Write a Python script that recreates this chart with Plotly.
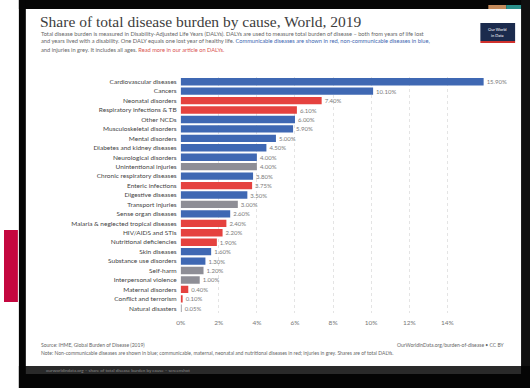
import plotly.graph_objects as go

W, H = 530, 388

causes = [
    "Cardiovascular diseases", "Cancers", "Neonatal disorders",
    "Respiratory infections & TB", "Other NCDs", "Musculoskeletal disorders",
    "Mental disorders", "Diabetes and kidney diseases", "Neurological disorders",
    "Unintentional injuries", "Chronic respiratory diseases", "Enteric infections",
    "Digestive diseases", "Transport injuries", "Sense organ diseases",
    "Malaria & neglected tropical diseases", "HIV/AIDS and STIs",
    "Nutritional deficiencies", "Skin diseases", "Substance use disorders",
    "Self-harm", "Interpersonal violence", "Maternal disorders",
    "Conflict and terrorism", "Natural disasters",
]
share = [15.9, 10.1, 7.4, 6.1, 6.0, 5.9, 5.0, 4.5, 4.0, 4.0, 3.8, 3.75, 3.5,
         3.0, 2.6, 2.4, 2.2, 1.9, 1.6, 1.3, 1.2, 1.0, 0.4, 0.1, 0.05]
group = ["N", "N", "C", "C", "N", "N", "N", "N", "N", "I", "N", "C", "N",
         "I", "N", "C", "C", "C", "N", "N", "I", "I", "C", "C", "I"]
xticks = [0, 2, 4, 6, 8, 10, 12, 14]

palette = {"N": "#3f68b3", "C": "#e5423f", "I": "#8e8e96"}
colors = [palette[g] for g in group]


def px(x):
    return x / W


def py(y):
    return 1 - y / H


fig = go.Figure(go.Bar(
    x=share, y=causes, orientation="h",
    marker=dict(color=colors, line=dict(width=0)),
    text=[f"{v:.2f}%" for v in share], textposition="outside",
    textfont=dict(size=6, color="#7a7a7a", family="Lato"),
    cliponaxis=False,
))

fig.update_layout(
    width=W, height=H, margin=dict(l=0, r=0, t=0, b=0),
    paper_bgcolor="white", plot_bgcolor="white",
    showlegend=False, bargap=0.22,
    font=dict(family="Lato", color="#555"),
    xaxis=dict(domain=[px(178), px(178 + 17 * 19.2)], range=[0, 17],
               tickvals=xticks, ticktext=[f"{t}%" for t in xticks],
               showgrid=True, gridcolor="#e4e4e4", griddash="dot",
               zeroline=False, showline=False, ticks="",
               tickfont=dict(size=6.5, color="#777"), ticklabelstandoff=4),
    yaxis=dict(domain=[py(313), py(77)], autorange="reversed",
               showgrid=False, zeroline=False, showline=False, ticks="",
               tickfont=dict(size=6.5, color="#444"), ticklabelstandoff=3),
)

shapes = []
def rect(x0, y0, x1, y1, color, layer="above"):
    shapes.append(dict(type="rect", xref="paper", yref="paper",
                       x0=px(x0), x1=px(x1), y0=py(y1), y1=py(y0),
                       fillcolor=color, line=dict(width=0), layer=layer))

# outer frame (screenshot borders)
rect(15, 0, 530, 9, "#050505")
rect(15, 0, 22, 388, "#050505")
rect(521, 0, 530, 388, "#101010")
rect(15, 366, 530, 388, "#050505")
rect(22, 366, 521, 374, "#2a2a2a")
rect(0, 230, 14, 302, "#c4073f")
# logo
rect(480, 23, 515, 41, "#1b2b4d")
rect(480, 41, 515, 43, "#d0312d")
rect(488, 5, 506, 9, "#c48a5a")
rect(506, 5, 521, 9, "#2a8f8a")
fig.update_layout(shapes=shapes)

ann = []
def text(x, y, s, size, color="#666", family="Lato", xanchor="left"):
    ann.append(dict(x=px(x), y=py(y), xref="paper", yref="paper", text=s,
                    showarrow=False, xanchor=xanchor, yanchor="middle",
                    font=dict(size=size, color=color, family=family)))

text(34, 21, "Share of total disease burden by cause, World, 2019", 15.5,
     "#3d3d3d", "Liberation Serif")
text(35, 33, "Total disease burden is measured in Disability-Adjusted Life Years (DALYs). DALYs are used to measure total burden of disease – both from years of life lost", 5.7)
text(35, 41, "and years lived with a disability. One DALY equals one lost year of healthy life. <span style='color:#3d66b0'>Communicable diseases are shown in red, non-communicable diseases in blue,</span>", 5.7)
text(35, 49, "and injuries in grey. It includes all ages. <span style='color:#d9534f'>Read more in our article on DALYs.</span>", 5.7)
text(497.5, 30, "Our World", 4, "white", xanchor="center")
text(497.5, 35, "in Data", 4, "white", xanchor="center")
text(35, 345, "Source: IHME, Global Burden of Disease (2019)", 5)
text(507, 345, "OurWorldInData.org/burden-of-disease • CC BY", 5, xanchor="right")
text(35, 353, "Note: Non-communicable diseases are shown in blue; communicable, maternal, neonatal and nutritional diseases in red; injuries in grey. Shares are of total DALYs.", 5)
text(40, 370, "ourworldindata.org – share of total disease burden by cause – screenshot", 4.5, "#888")
fig.update_layout(annotations=ann)

fig.write_html("out.html")
